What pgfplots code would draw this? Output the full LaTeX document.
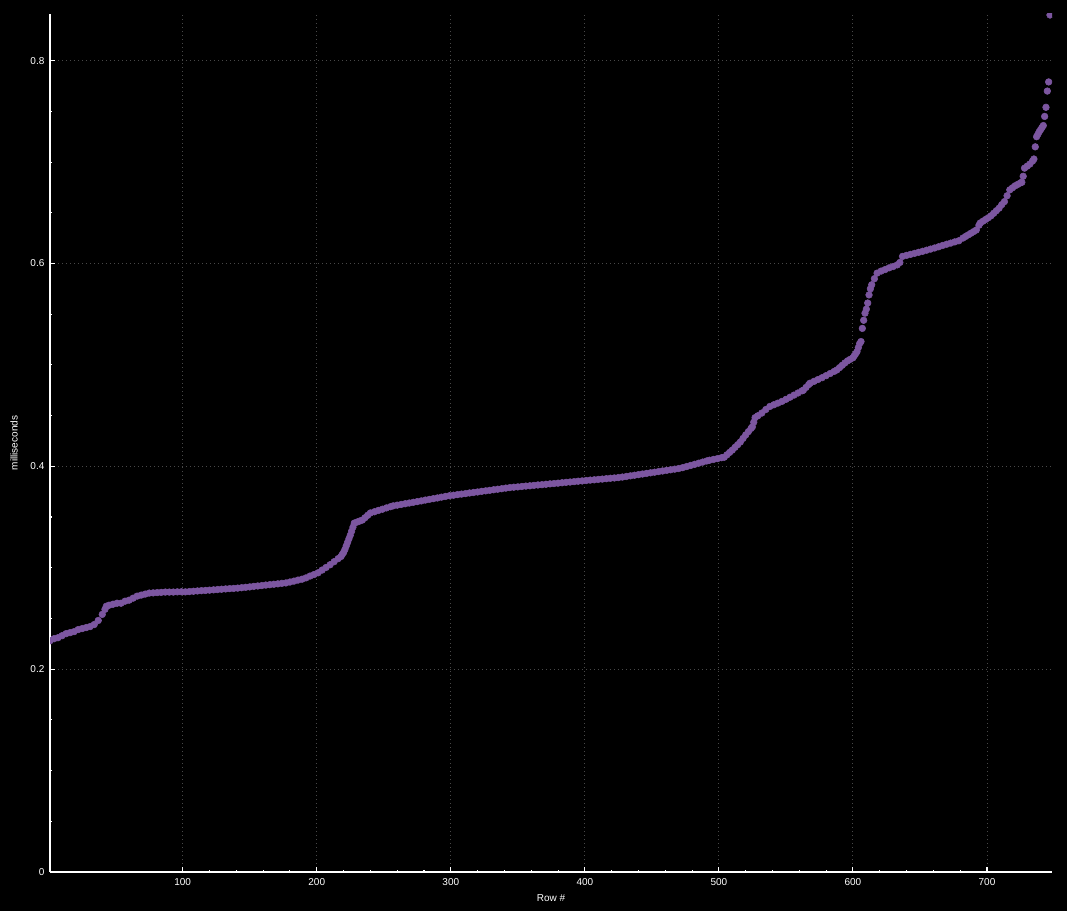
\documentclass[border=0pt]{standalone}
\usepackage{fontspec}
\setmainfont{Liberation Sans}
\usepackage{xcolor}
\usepackage{pgfplots}
\pgfplotsset{compat=1.18}
\usetikzlibrary{backgrounds}

\definecolor{dotpurple}{RGB}{124,86,160}
\definecolor{gridgray}{RGB}{72,72,72}

\begin{document}
\begin{tikzpicture}
  \begin{axis}[
    scale only axis,
    width=751.5pt,
    height=643.5pt,
    xmin=1, xmax=748.5,
    ymin=0, ymax=0.846,
    axis lines=left,
    axis line style={-, white, line width=0.8pt},
    tick style={white, line width=0.8pt},
    tick align=inside,
    major tick length=4pt,
    minor tick length=1.6pt,
    xtick={100,200,...,700},
    minor x tick num=4,
    ytick={0,0.2,0.4,0.6,0.8},
    minor y tick num=3,
    grid=major,
    grid style={dash pattern=on 0.75pt off 2.25pt, gridgray, line width=0.75pt},
    clip marker paths=true,
    font=\fontsize{7.5}{9}\selectfont,
    /pgf/number format/assume math mode=true,
    /pgf/number format/fixed,
    every tick label/.append style={white, inner sep=0pt},
    xticklabel style={yshift=-5pt},
    yticklabel style={xshift=-4pt},
    xlabel={Row \#},
    ylabel={milliseconds},
    xlabel style={white, at={(axis description cs:0.5,-0.0303)}, anchor=center},
    ylabel style={white, at={(axis description cs:-0.036,0.5)}, anchor=center},
  ]

  % sorted timings, one dot per row
  \addplot[only marks, mark=*, mark size=2.5pt, color=dotpurple,
           mark options={draw=dotpurple, fill=dotpurple}] coordinates {
    (1,0.228) (4,0.230) (7,0.231) (10,0.233) (13,0.235) (16,0.236) (19,0.237)
    (22,0.239) (25,0.240) (28,0.241) (31,0.242) (34,0.244) (37,0.248) (40,0.254)
    (42,0.259) (43,0.262) (45,0.263) (48,0.264) (51,0.265) (54,0.265) (57,0.267)
    (60,0.268) (63,0.270) (66,0.272) (69,0.273) (72,0.274) (75,0.275) (78,0.2752)
    (81,0.2755) (84,0.2757) (87,0.276) (90,0.276) (93,0.276) (96,0.2762) (99,0.2763)
    (102,0.2762) (105,0.2765) (108,0.2768) (111,0.2771) (114,0.2774) (117,0.2776)
    (120,0.2779) (123,0.2782) (126,0.2785) (129,0.2788) (132,0.2791) (135,0.2794)
    (138,0.2796) (141,0.2799) (144,0.2803) (147,0.2807) (150,0.2811) (153,0.2816)
    (156,0.2820) (159,0.2824) (162,0.2829) (165,0.2833) (168,0.2837) (171,0.2841)
    (174,0.2846) (177,0.2850) (180,0.2859) (183,0.2868) (186,0.2878) (189,0.2887)
    (192,0.2900) (195,0.2918) (198,0.2933) (201,0.2950) (204,0.2977) (207,0.3003)
    (210,0.3030) (213,0.3060) (216,0.3090) (218,0.3110) (219,0.3130) (220,0.3150)
    (221,0.3180) (222,0.3215) (223,0.3250) (224,0.3285) (225,0.3320) (226,0.3360)
    (227,0.3400) (228,0.3440) (230,0.3450) (232,0.3460) (234,0.3470) (236,0.3493)
    (238,0.3517) (240,0.3540) (243,0.3552) (246,0.3565) (249,0.3577) (252,0.3590)
    (255,0.3602) (257,0.3610) (260,0.3617) (263,0.3624) (266,0.3631) (269,0.3638)
    (272,0.3645) (275,0.3652) (278,0.3659) (281,0.3667) (284,0.3674) (287,0.3681)
    (290,0.3688) (293,0.3696) (296,0.3703) (299,0.3710) (302,0.3715) (305,0.3721)
    (308,0.3726) (311,0.3731) (314,0.3737) (317,0.3742) (320,0.3747) (323,0.3753)
    (326,0.3758) (329,0.3763) (332,0.3769) (335,0.3774) (338,0.3779) (341,0.3785)
    (344,0.3790) (347,0.3794) (350,0.3797) (353,0.3801) (356,0.3805) (359,0.3808)
    (362,0.3812) (365,0.3816) (368,0.3819) (371,0.3823) (374,0.3827) (377,0.3830)
    (380,0.3834) (383,0.3838) (386,0.3842) (389,0.3845) (392,0.3849) (395,0.3853)
    (398,0.3856) (401,0.3860) (404,0.3864) (407,0.3867) (410,0.3871) (413,0.3874)
    (416,0.3878) (419,0.3882) (422,0.3885) (425,0.3889) (428,0.3894) (431,0.3900)
    (434,0.3906) (437,0.3912) (440,0.3918) (443,0.3924) (446,0.3930) (449,0.3936)
    (452,0.3942) (455,0.3948) (458,0.3954) (461,0.3960) (464,0.3966) (467,0.3972)
    (470,0.3978) (473,0.3987) (476,0.3998) (479,0.4009) (482,0.4020) (485,0.4031)
    (488,0.4042) (491,0.4053) (493,0.4060) (496,0.4068) (499,0.4076) (502,0.4085)
    (504,0.4090) (506,0.4113) (508,0.4137) (510,0.4160) (512,0.4187) (514,0.4213)
    (516,0.4240) (518,0.4275) (520,0.4310) (522,0.4342) (524,0.4374) (525,0.4390)
    (526,0.4435) (527,0.4480) (529,0.4498) (532,0.4525) (535,0.4560) (538,0.4590)
    (541,0.4607) (544,0.4623) (547,0.4640) (550,0.4660) (553,0.4681) (556,0.4702)
    (559,0.4723) (562,0.4744) (563,0.4750) (565,0.4778) (567,0.4806) (568,0.4820)
    (571,0.4838) (574,0.4856) (577,0.4874) (580,0.4894) (583,0.4915) (586,0.4936)
    (588,0.4950) (590,0.4973) (592,0.4996) (594,0.5019) (596,0.5040) (598,0.5055)
    (600,0.5070) (601,0.5090) (602,0.5110) (603,0.5130) (604,0.5170) (605,0.5210)
    (606,0.5230) (607,0.5360) (608,0.5440) (609,0.5510) (610,0.5550) (611,0.5610)
    (612,0.5690) (613,0.5750) (614,0.5790) (616,0.5850) (618,0.5905) (621,0.5925)
    (624,0.5940) (627,0.5957) (630,0.5970) (633,0.5986) (635,0.6010) (637,0.6070)
    (640,0.6080) (643,0.6090) (646,0.6100) (649,0.6110) (652,0.6120) (655,0.6131)
    (658,0.6142) (661,0.6153) (664,0.6165) (667,0.6178) (670,0.6190) (673,0.6201)
    (676,0.6213) (679,0.6224) (682,0.6250) (684,0.6266) (686,0.6282) (688,0.6298)
    (690,0.6314) (692,0.6330) (694,0.6377) (695,0.6400) (697,0.6417) (699,0.6434)
    (701,0.6451) (703,0.6470) (705,0.6495) (707,0.6520) (709,0.6545) (711,0.6580)
    (713,0.6610) (715,0.6668) (717,0.6726) (719,0.6746) (721,0.6766) (723,0.6780)
    (725,0.6795) (726,0.6800) (727,0.6860) (728,0.6940) (730,0.6960) (732,0.6980)
    (734,0.7010) (735,0.7030) (736,0.7150) (737,0.7250) (738,0.7275) (739,0.7300)
    (740,0.7320) (741,0.7340) (742,0.7360) (743,0.7450) (744,0.7540) (745,0.7700)
    (746,0.7790) (747,0.8450)
  };
  \end{axis}

  % dark page behind everything
  \begin{scope}[on background layer]
    \fill[black] ([shift={(-37.5pt,-29.25pt)}]current axis.south west)
      rectangle ([shift={(11.25pt,10.5pt)}]current axis.north east);
  \end{scope}
\end{tikzpicture}
\end{document}
